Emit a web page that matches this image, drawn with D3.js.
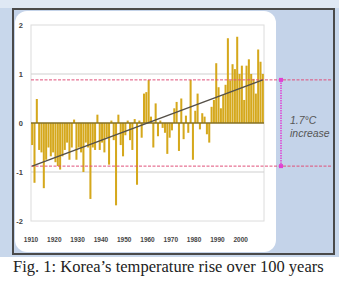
<!DOCTYPE html>
<html>
<head>
<meta charset="utf-8">
<script src="https://cdn.jsdelivr.net/npm/d3@7"></script>
<style>
  body { margin: 0; background: #fff; }
  svg { display: block; }
</style>
</head>
<body>
<script>
// Data: annual temperature anomaly (deg C), 1910-2009
var firstYear = 1910;
var anomalies = [
  -0.45, -1.22, 0.49, -0.55, -0.6, -1.33, -0.75, -0.5, -0.68, -0.6,
  -0.8, -0.88, -0.95, -0.68, -0.55, -0.4, -0.75, -0.5, 0.07, -0.75,
  -0.5, -0.6, -1.0, -0.4, -0.5, -1.55, -0.5, -0.55, 0.17, -0.55,
  -0.4, -0.6, -0.3, -0.85, 0.05, -0.35, -1.68, 0.17, -0.45, -0.68,
  -0.25, 0.05, -0.35, -0.55, 0.08, -1.26, 0.05, -0.3, 0.6, 0.63,
  0.88, 0.13, -0.5, 0.4, -0.27, 0.05, -0.1, -0.2, -0.63, -0.3,
  -0.15, 0.3, 0.43, -0.57, 0.5, -0.33, 0.15, -0.2, 0.88, -0.75,
  0.25, 0.6, -0.13, 0.2, 0.13, -0.23, -0.4, 0.33, 0.47, 1.22,
  0.73, 0.3, 0.57, 0.78, 1.73, 0.87, 1.2, 1.1, 1.76, 1.0,
  1.17, 0.47, 1.17, 1.3, 1.0, 0.9, 0.6, 1.5, 1.25, 1.0
];
var trendEnds = [-0.88, 0.88];
var yTicks = [-2, -1, 0, 1, 2];
var xTicks = [1910, 1920, 1930, 1940, 1950, 1960, 1970, 1980, 1990, 2000];
var noteLines = ["1.7\u00b0C", "increase"];
var caption = "Fig. 1: Korea\u2019s temperature rise over 100 years";

var W = 339, H = 283;
var svg = d3.select("body").append("svg").attr("width", W).attr("height", H);

// backdrop
svg.append("rect").attr("width", W).attr("height", 257).attr("fill", "#c8d7eb");
svg.append("rect").attr("width", W).attr("height", 8).attr("fill", "#dfe8f4");
svg.append("rect").attr("x", 13).attr("y", 9).attr("width", 321).attr("height", 245)
   .attr("fill", "#c4d3e9").attr("stroke", "#4a4a4a").attr("stroke-width", 2);
svg.append("rect").attr("x", 15).attr("y", 11).attr("width", 261).attr("height", 241)
   .attr("rx", 12).attr("fill", "#fff");

var x = d3.scaleLinear().domain([firstYear, firstYear + anomalies.length]).range([31, 264]);
var y = d3.scaleLinear().domain([-2, 2]).range([221, 25]);

var plot = svg.append("g");

// plot box and grid
plot.append("rect").attr("x", x.range()[0]).attr("y", y(2))
    .attr("width", x.range()[1] - x.range()[0]).attr("height", y(-2) - y(2))
    .attr("fill", "#fff").attr("stroke", "#dcdcdc");
plot.selectAll("line.grid").data([-1, 1]).enter().append("line")
    .attr("class", "grid")
    .attr("x1", x.range()[0]).attr("x2", x.range()[1])
    .attr("y1", function(d) { return y(d); }).attr("y2", function(d) { return y(d); })
    .attr("stroke", "#cfcfcf").attr("stroke-width", 1);

// bars
var bw = x(firstYear + 1) - x(firstYear);
plot.selectAll("rect.bar").data(anomalies).enter().append("rect")
    .attr("class", "bar")
    .attr("x", function(d, i) { return x(firstYear + i) + 0.15; })
    .attr("width", bw - 0.3)
    .attr("y", function(d) { return y(Math.max(0, d)); })
    .attr("height", function(d) { return Math.abs(y(d) - y(0)); })
    .attr("fill", "#d5a81c");

// zero line
plot.append("line").attr("x1", x.range()[0]).attr("x2", x.range()[1])
    .attr("y1", y(0)).attr("y2", y(0))
    .attr("stroke", "#857024").attr("stroke-width", 1.5);

// red dashed reference lines
plot.selectAll("line.ref").data(trendEnds).enter().append("line")
    .attr("class", "ref")
    .attr("x1", x.range()[0]).attr("x2", 331)
    .attr("y1", function(d) { return y(d); }).attr("y2", function(d) { return y(d); })
    .attr("stroke", "#e0507a").attr("stroke-width", 1).attr("stroke-dasharray", "3,1.5");

// trend line
var lastYear = firstYear + anomalies.length - 1;
plot.append("line")
    .attr("x1", x(firstYear + 0.5)).attr("y1", y(trendEnds[0]))
    .attr("x2", x(lastYear + 0.5)).attr("y2", y(trendEnds[1]))
    .attr("stroke", "#555048").attr("stroke-width", 1.5);

// magenta bracket
var bx = 281;
plot.append("line").attr("x1", bx).attr("x2", bx)
    .attr("y1", y(trendEnds[1])).attr("y2", y(trendEnds[0]))
    .attr("stroke", "#e040d4").attr("stroke-width", 1.5).attr("stroke-dasharray", "1.5,1");
plot.selectAll("rect.mk").data(trendEnds).enter().append("rect")
    .attr("class", "mk")
    .attr("x", bx - 2).attr("y", function(d) { return y(d) - 2; })
    .attr("width", 4).attr("height", 4).attr("fill", "#e040d4");

plot.selectAll("text.note").data(noteLines).enter().append("text")
    .attr("class", "note")
    .attr("x", 290).attr("y", function(d, i) { return 124 + i * 13; })
    .attr("font-family", "Liberation Sans, Arial, sans-serif")
    .attr("font-style", "italic")
    .attr("font-size", 10.5)
    .attr("fill", "#555")
    .text(function(d) { return d; });

// axis labels
plot.selectAll("text.yl").data(yTicks).enter().append("text")
    .attr("class", "yl")
    .attr("x", 23).attr("y", function(d) { return y(d) + 2.5; })
    .attr("text-anchor", "end")
    .attr("font-family", "Liberation Sans, Arial, sans-serif")
    .attr("font-size", 7.5).attr("font-weight", "bold").attr("fill", "#444")
    .text(function(d) { return d; });
plot.selectAll("text.xl").data(xTicks).enter().append("text")
    .attr("class", "xl")
    .attr("x", function(d) { return x(d); }).attr("y", 242)
    .attr("text-anchor", "middle")
    .attr("font-family", "Liberation Sans, Arial, sans-serif")
    .attr("font-size", 6.5).attr("font-weight", "bold").attr("fill", "#444")
    .text(function(d) { return d; });

// caption
svg.append("text").attr("x", 13).attr("y", 272)
   .attr("font-family", "Liberation Serif, Times New Roman, serif")
   .attr("font-size", 16.5).attr("fill", "#222")
   .text(caption);
</script>
</body>
</html>
